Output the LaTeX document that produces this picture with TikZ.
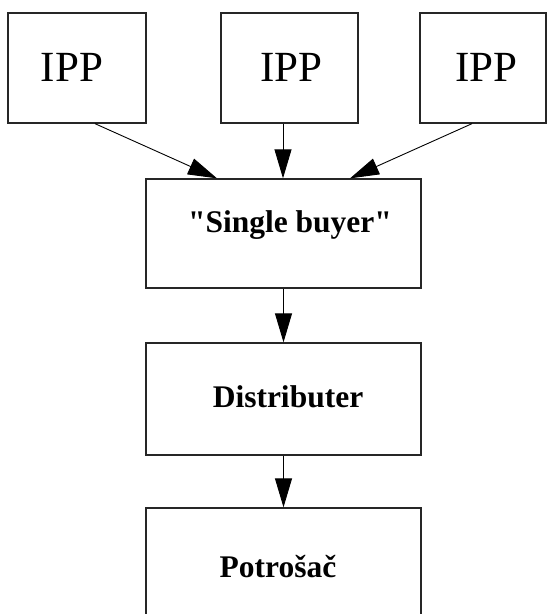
\documentclass[tikz,border=0pt]{standalone}
\usepackage{fontspec}
\setmainfont{Liberation Serif}
\usetikzlibrary{arrows.meta}
\begin{document}
\begin{tikzpicture}[x=1pt,y=-1pt,
  box/.style={draw=black!85, line width=1.3pt, rectangle, inner sep=0pt},
  lbl/.style={anchor=base, inner sep=0pt},
  ipptext/.style={lbl, font=\fontsize{43}{43}\selectfont},
  roletext/.style={lbl, font=\fontsize{31.5}{31.5}\selectfont\bfseries},
  flow/.style={line width=0.9pt, -{Triangle[length=29pt,width=17pt]}}]
\useasboundingbox (0,0) rectangle (547,614);
\clip (0,0) rectangle (547,614);

% producer boxes
\node[box, minimum width=138pt, minimum height=110pt] (ipp1) at (77,68) {};
\node[box, minimum width=137pt, minimum height=110pt] (ipp2) at (289.5,68) {};
\node[box, minimum width=126pt, minimum height=110pt] (ipp3) at (483,68) {};
\node[ipptext] (t1) at (72,81) {IPP};
\node[ipptext] (t2) at (291.5,81) {IPP};
\node[ipptext] (t3) at (486.5,81) {IPP};

% chain boxes
\node[box, minimum width=275pt, minimum height=109pt] (sb) at (283.5,233.5) {};
\node[box, minimum width=275pt, minimum height=112pt] (dist) at (283.5,399) {};
\node[box, minimum width=275pt, minimum height=132pt] (pot) at (283.5,574) {};
\node[roletext] (tsb) at (290,232) {\textquotedbl Single buyer\textquotedbl};
\node[roletext] (tdist) at (288,407) {Distributer};
\node[roletext] (tpot) at (278,577) {Potrošač};

% connectors
\draw[flow] ([xshift=18pt]ipp1.south) -- ([xshift=-66.5pt]sb.north);
\draw[flow] ([xshift=-6.5pt]ipp2.south) -- ([xshift=-0.5pt]sb.north);
\draw[flow] ([xshift=-11pt]ipp3.south) -- ([xshift=66.5pt]sb.north);
\draw[flow] (sb.south) -- (dist.north);
\draw[flow] (dist.south) -- (pot.north);
\end{tikzpicture}
\end{document}
